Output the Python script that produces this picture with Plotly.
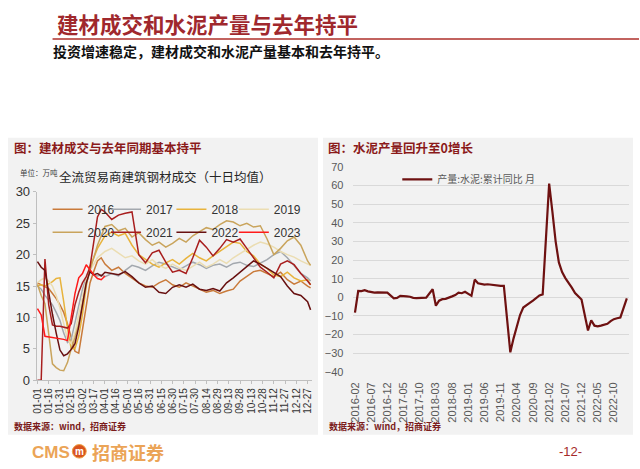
import plotly.graph_objects as go

W, H = 640, 469

# ---------------- data: left chart (day of year, 10-day average, 万吨) ----------------
days = [0, 5, 10, 15, 20, 25, 30, 35, 40, 45, 50, 55, 60, 65, 70, 75, 80, 85, 90,
        99, 108, 117, 126, 135, 144, 153, 162, 171, 180, 189, 198, 207, 216, 225, 234,
        243, 252, 261, 270, 279, 288, 297, 306, 315, 324, 333, 342, 351, 360, 364]

tick_days = [0, 15, 30, 45, 60, 75, 90, 105, 120, 135, 150, 165, 180, 195, 210,
             225, 240, 255, 270, 285, 300, 315, 330, 345, 360]
tick_labels = ["01-01", "01-16", "01-31", "02-15", "03-02", "03-17", "04-01", "04-16",
               "05-01", "05-16", "05-31", "06-15", "06-30", "07-15", "07-30", "08-14",
               "08-29", "09-13", "09-28", "10-13", "10-28", "11-12", "11-27", "12-12", "12-27"]

y2016 = [15.5, 15.2, 15.0, 14.6, 13.8, 13.0, 12.0, 10.8, 9.0, 7.0, 4.6, 4.3, 8.0, 12.3, 15.5, 17.3, 19.0, 19.5, 18.5,
         17.5, 18.0, 17.0, 16.3, 15.5, 15.0, 14.8, 15.5, 16.0, 15.2, 14.8, 15.5, 15.0, 14.5, 14.0, 14.3,
         13.8, 14.2, 14.5, 15.8, 16.5, 17.3, 17.5, 17.0, 16.5, 17.2, 16.0, 15.3, 15.8, 15.0, 14.7]
y2017 = [15.0, 14.5, 13.5, 12.8, 12.0, 10.8, 9.5, 7.5, 6.0, 6.5, 9.0, 12.0, 14.5, 16.3, 17.2, 16.8, 16.6, 16.8, 16.5,
         17.0, 16.6, 17.5, 18.3, 18.0, 17.5, 18.2, 18.8, 18.5, 18.0, 17.6, 18.2, 18.8, 18.4, 17.8, 18.3,
         18.5, 18.0, 18.6, 18.8, 18.3, 18.1, 18.7, 19.2, 20.0, 20.5, 19.5, 18.2, 17.0, 16.3, 15.8]
y2018 = [15.0, 15.2, 15.0, 15.3, 15.7, 16.2, 16.3, 12.5, 8.3, 5.0, 5.0, 7.0, 10.5, 15.0, 18.2, 19.5, 21.0, 22.0, 23.0,
         23.6, 23.0, 23.4, 21.5, 20.0, 19.2, 18.5, 18.0, 18.7, 19.2, 18.5, 19.4, 20.2, 19.5, 19.0, 19.8,
         20.5, 21.3, 22.0, 21.8, 20.5, 19.8, 18.5, 17.8, 16.8, 16.5, 17.2, 16.3, 15.8, 16.0, 15.2]
y2019 = [15.5, 16.0, 16.3, 15.8, 15.0, 13.5, 11.5, 9.0, 6.5, 5.8, 7.5, 10.5, 13.5, 16.0, 17.5, 18.5, 19.5, 20.0, 20.5,
         21.0, 20.3, 19.5, 19.8, 19.0, 18.5, 19.2, 18.3, 17.8, 18.5, 17.9, 17.5, 18.2, 18.8, 18.0, 18.5,
         19.2, 18.6, 19.5, 20.2, 20.8, 21.5, 22.0, 21.7, 21.2, 20.5, 20.0, 19.6, 19.0, 18.6, 18.3]
y2020 = [15.3, 13.5, 12.2, 7.8, 2.6, 2.0, 1.6, 1.5, 2.8, 5.0, 6.8, 9.0, 12.0, 15.2, 17.5, 19.5, 21.5, 23.0, 24.5,
         24.8, 23.8, 24.2, 22.8, 23.5, 22.4, 21.5, 22.0, 21.2, 21.8, 22.6, 22.0, 23.0, 23.6, 24.3, 24.0,
         24.8, 25.4, 25.2, 24.6, 25.0, 24.4, 24.6, 22.5, 20.0, 21.0, 22.2, 22.8, 21.5, 19.0, 18.3]
y2021 = [0.0, 0.0, 19.3, 12.0, 8.8, 8.6, 8.6, 8.5, 8.3, 9.0, 12.0, 14.0, 15.5, 16.5, 18.0, 22.0, 26.0, 27.2, 26.8,
         25.6, 26.3, 26.6, 26.8, 20.0, 18.7, 20.3, 20.7, 18.8, 17.2, 17.5, 17.0, 19.5, 22.3, 21.2, 19.8,
         21.0, 22.4, 22.0, 22.5, 21.0, 19.5, 18.0, 17.2, 16.3, 18.5, 19.0, 18.4, 17.0, 15.8, 15.2]
y2022 = [18.9, 18.0, 17.5, 13.7, 10.5, 7.5, 4.8, 3.9, 4.2, 4.9, 5.8, 8.5, 12.0, 15.5, 17.3, 16.8, 17.0, 16.6, 17.2,
         17.0, 16.8, 17.3, 16.5, 15.5, 14.8, 15.0, 14.0, 13.8, 14.8, 15.2, 14.8, 15.3, 14.5, 14.3, 14.6,
         14.2, 15.5, 16.3, 17.2, 18.0, 19.0, 18.5, 17.8, 17.2, 16.5, 15.0, 13.8, 13.5, 12.5, 11.2]
y2023 = [11.4, 10.4, 7.0, 6.9, 6.8, 6.8, 6.7, 6.5, 6.3, 9.8, 13.8, 16.3, 17.0, 18.4, 17.5, 16.8, 16.2, 16.0, 16.6] + [None] * 31

years = ["2016", "2017", "2018", "2019", "2020", "2021", "2022", "2023"]
year_values = [y2016, y2017, y2018, y2019, y2020, y2021, y2022, y2023]
year_colors = ["#C97A3A", "#A3A8AE", "#E8B33C", "#EBDDB2", "#C9A45C", "#A81E1E", "#681010", "#FF1A1A"]

# ---------------- data: right chart (cement output, cumulative YoY %) ----------------
months = [f"{y}-{m:02d}" for y in range(2016, 2024) for m in range(1, 13)]
months = months[months.index("2016-02"):months.index("2023-02") + 1]
cement_yoy = [
    -8.2, 3.4, 3.3, 3.8, 3.2, 2.8, 2.5, 2.6, 2.5, 2.6, 2.5,                     # 2016-02..12
    None, -0.5, -0.3, 0.8, 0.8, 0.5, 0.3, -0.3, -0.4, -0.4, -0.2, -0.2,         # 2017
    None, 4.3, -4.5, -1.8, -1.0, -0.8, -0.3, 0.5, 1.2, 2.5, 2.2, 3.0,           # 2018
    None, 0.8, 9.5, 7.5, 7.0, 6.8, 7.0, 6.8, 6.6, 6.0, 6.1, 6.1,                # 2019
    None, -29.5, -22.0, -15.0, -9.5, -5.5, -4.0, -3.0, -1.8, -0.5, 1.0, 1.6,    # 2020
    None, 61.0, 46.0, 30.0, 18.7, 13.5, 10.3, 8.0, 5.2, 2.3, 0.3, -1.2,         # 2021
    None, -17.8, -12.3, -15.2, -15.6, -15.2, -14.5, -14.2, -12.8, -11.7, -11.2, -10.8,  # 2022
    None, -0.6,                                                                  # 2023
]
cement_ticks = months[::5]


def px(x):
    return x / W


def py(y):
    return 1 - y / H


CJK = "Noto Sans CJK SC"
LAT = "Liberation Sans"

legend_ids = ["legend", "legend3", "legend4", "legend5"]   # one legend per column

fig = go.Figure()

for i, (name, vals, col) in enumerate(zip(years, year_values, year_colors)):
    fig.add_trace(go.Scatter(
        x=days, y=vals, name=name, mode="lines",
        line=dict(color=col, width=1.5),
        xaxis="x", yaxis="y",
        legend=legend_ids[i % 4], legendgroup=name,
        connectgaps=False, hoverinfo="skip",
    ))

fig.add_trace(go.Scatter(
    x=months, y=cement_yoy, name="产量:水泥:累计同比 月", mode="lines",
    line=dict(color="#6E1111", width=2.2),
    xaxis="x2", yaxis="y2", legend="legend2",
    connectgaps=True, hoverinfo="skip",
))

shapes = [
    dict(type="rect", xref="paper", yref="paper", x0=px(3), x1=px(316), y0=py(442), y1=py(135),
         fillcolor="#F2F2F2", line=dict(width=0), layer="below"),
    dict(type="rect", xref="paper", yref="paper", x0=px(321), x1=px(634), y0=py(442), y1=py(135),
         fillcolor="#F2F2F2", line=dict(width=0), layer="below"),
    dict(type="line", xref="paper", yref="paper", x0=px(48), x1=px(640), y0=py(33), y1=py(33),
         line=dict(color="#AE2F2A", width=1.5)),
    dict(type="circle", xref="paper", yref="paper", x0=px(68), x1=px(82), y0=py(466), y1=py(452),
         fillcolor="#D8531F", line=dict(color="#F0A040", width=1)),
]


def ann(text, x, y, size, color, family=CJK, xanchor="left", yanchor="middle"):
    return dict(text=text, x=px(x), y=py(y), xref="paper", yref="paper", showarrow=False,
                xanchor=xanchor, yanchor=yanchor, font=dict(size=size, color=color, family=family))


annotations = [
    ann("<b>建材成交和水泥产量与去年持平</b>", 50, 17, 21.5, "#A0282D"),
    ann("<b>投资增速稳定，建材成交和水泥产量基本和去年持平。</b>", 46, 45, 14, "#111111"),
    ann("<b>图：建材成交与去年同期基本持平</b>", 7, 145, 12.5, "#8B1A1A"),
    ann("<b>图：水泥产量回升至0增长</b>", 324, 145, 12.5, "#8B1A1A"),
    ann("单位：万吨", 13, 171, 7.5, "#404040"),
    ann("全流贸易商建筑钢材成交（十日均值）", 52, 175, 12.5, "#262626"),
    ann("<b>数据来源：wind，招商证券</b>", 7, 433, 9, "#7B1C1C"),
    ann("<b>数据来源：wind，招商证券</b>", 325, 433, 9, "#7B1C1C"),
    ann("<b>CMS</b>", 25, 460, 17, "#EBA457", family=LAT),
    ann("<b>m</b>", 75, 459, 10, "#FFFFFF", family=LAT, xanchor="center"),
    ann("<b>招商证券</b>", 86, 460, 18, "#EBA457"),
    ann("-12-", 571, 459, 13, "#A52A2A", family=LAT, xanchor="center"),
]

col_x = [43, 102, 168, 231]


def col_legend(x):
    return dict(
        orientation="v", x=px(x), y=py(194), xanchor="left", yanchor="top",
        font=dict(size=12, color="#333333", family=LAT),
        bgcolor="rgba(0,0,0,0)", itemwidth=30, borderwidth=0,
        tracegroupgap=4, traceorder="grouped",
        itemclick=False, itemdoubleclick=False,
    )


fig.update_layout(
    width=W, height=H,
    margin=dict(l=0, r=0, t=0, b=0),
    paper_bgcolor="#FFFFFF", plot_bgcolor="rgba(0,0,0,0)",
    font=dict(family=f"{LAT}, {CJK}", color="#333333"),
    showlegend=True,
    shapes=shapes, annotations=annotations,
    legend=col_legend(col_x[0]),
    legend3=col_legend(col_x[1]),
    legend4=col_legend(col_x[2]),
    legend5=col_legend(col_x[3]),
    legend2=dict(x=px(396), y=py(163), orientation="h", xanchor="left", yanchor="top",
                 font=dict(size=10, color="#595959", family=CJK),
                 bgcolor="rgba(0,0,0,0)", itemwidth=30, borderwidth=0),
    xaxis=dict(domain=[px(32), px(310)], range=[-1, 366], anchor="y",
               tickmode="array", tickvals=tick_days, ticktext=tick_labels, tickangle=-90,
               tickfont=dict(size=10, color="#333333", family=LAT),
               showline=True, linecolor="#BFBFBF", linewidth=1,
               ticks="outside", ticklen=3, tickcolor="#BFBFBF",
               showgrid=False, zeroline=False),
    yaxis=dict(domain=[py(385.5), py(191)], range=[0, 30], anchor="x",
               tickmode="linear", tick0=0, dtick=5,
               tickfont=dict(size=13, color="#333333", family=LAT),
               showline=True, linecolor="#BFBFBF", linewidth=1,
               ticks="outside", ticklen=3, tickcolor="#BFBFBF",
               showgrid=False, zeroline=False),
    xaxis2=dict(domain=[px(351), px(630)], type="category", range=[-0.7, len(months) - 0.3],
                anchor="y2", tickmode="array", tickvals=cement_ticks, ticktext=cement_ticks,
                tickangle=-90, tickfont=dict(size=11, color="#595959", family=LAT),
                showline=False, ticks="outside", ticklen=5, tickcolor="rgba(0,0,0,0)",
                showgrid=False, zeroline=False),
    yaxis2=dict(domain=[py(377), py(165)], range=[-40, 70], anchor="x2",
                tickmode="linear", tick0=-40, dtick=10,
                tickfont=dict(size=11, color="#595959", family=LAT),
                showline=False, ticks="outside", ticklen=6, tickcolor="rgba(0,0,0,0)",
                showgrid=True, gridcolor="#D9D9D9", gridwidth=1, zeroline=False),
)

fig.write_html("out.html")
